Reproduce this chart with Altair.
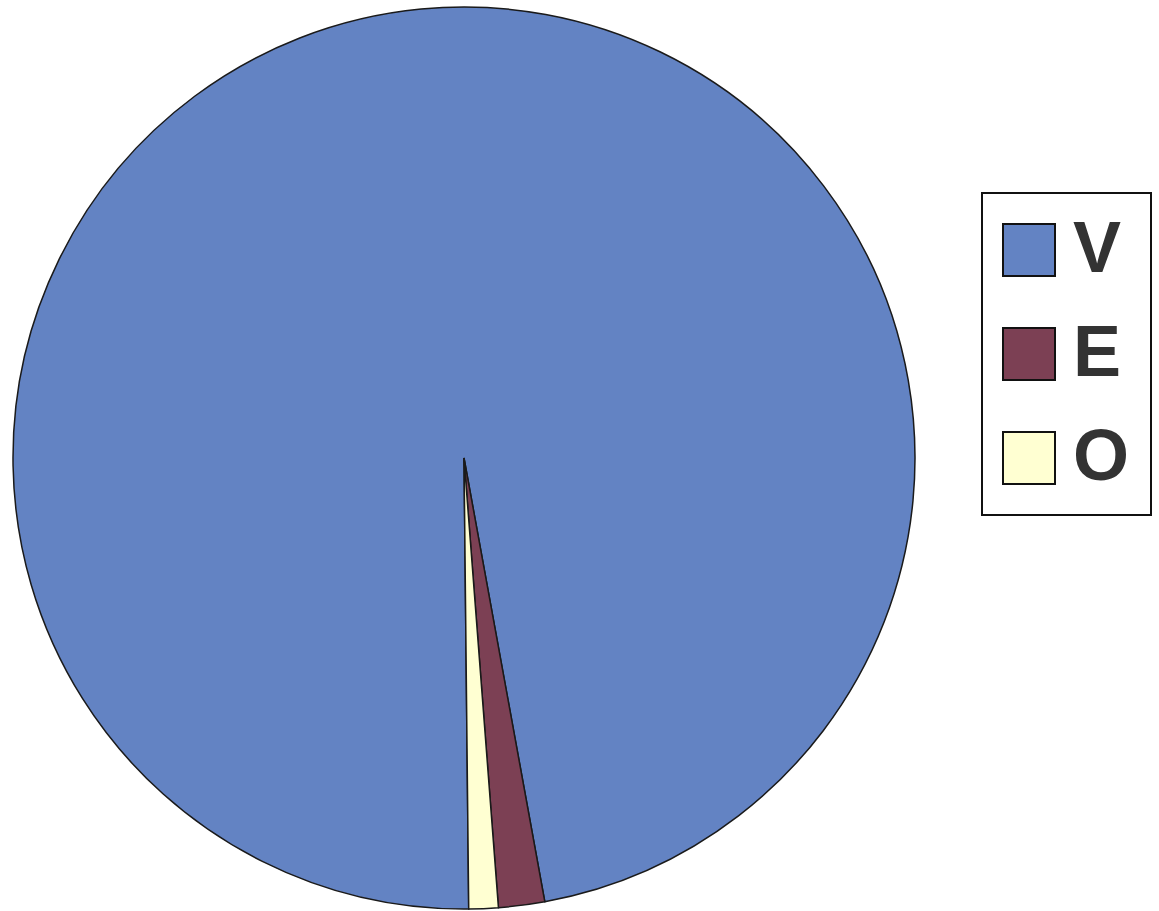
import math
import altair as alt
import pandas as pd

categories = ["V", "E", "O"]
values = [97.3, 1.65, 1.05]
colors = ["#6383C3", "#7C4054", "#FFFFD2"]

df = pd.DataFrame({"cat": categories, "value": values, "idx": list(range(len(categories)))})

start = math.radians(179.4)

chart = alt.Chart(df).mark_arc(radius=451, stroke="#1a1a1a", strokeWidth=1.5).encode(
    theta=alt.Theta("value:Q", stack=True, scale=alt.Scale(range=[start, start + 2 * math.pi])),
    order=alt.Order("idx:Q"),
    x=alt.value(464),
    y=alt.value(458),
    color=alt.Color(
        "cat:N",
        scale=alt.Scale(domain=categories, range=colors),
        legend=alt.Legend(
            title=None,
            orient="none",
            legendX=982,
            legendY=193,
            symbolType="square",
            symbolSize=2704,
            symbolOffset=-10,
            symbolStrokeColor="#111111",
            symbolStrokeWidth=2,
            labelFont="Liberation Sans",
            labelFontSize=72,
            labelFontWeight="bold",
            labelColor="#333333",
            labelOffset=8,
            rowPadding=32,
            padding=21,
            strokeColor="#111111",
            fillColor="#ffffff",
        ),
    ),
).properties(
    width=1159,
    height=911,
    autosize=alt.AutoSizeParams(type="none"),
    padding=0,
).configure_view(stroke=None).configure_legend(strokeWidth=2)

chart.save("out.html", embed_options={"renderer": "svg", "actions": False})
